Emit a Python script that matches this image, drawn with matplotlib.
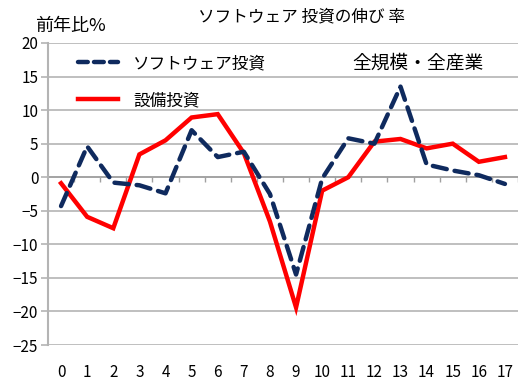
import matplotlib
matplotlib.use('Agg')
import matplotlib.pyplot as plt
from matplotlib.lines import Line2D

plt.rcParams['font.family'] = ['Noto Sans CJK JP', 'DejaVu Sans']

# data
periods = list(range(18))
tick_labels = [str(p) for p in periods]
software = [-4.3, 4.6, -0.8, -1.2, -2.4, 7.0, 3.0, 3.8, -2.5, -14.5,
            -0.2, 5.8, 5.0, 13.5, 1.9, 1.0, 0.3, -1.0]
capex = [-0.9, -5.9, -7.6, 3.4, 5.5, 8.9, 9.4, 3.6, -6.6, -19.4,
         -2.0, 0.0, 5.3, 5.7, 4.3, 5.0, 2.3, 3.0]
yticks = [20, 15, 10, 5, 0, -5, -10, -15, -20, -25]

grid_col = '#b4b4b4'
navy = '#0f2a5e'
red = '#ff0000'

fig = plt.figure(figsize=(5.28, 3.83), dpi=100)
ax = fig.add_axes([48 / 528, 1 - 345 / 383, 470 / 528, 302 / 383])

# gridlines
for v in yticks:
    ax.axhline(v, color=grid_col, lw=1.2, zorder=0)
# zero axis line with category-boundary ticks
ax.axhline(0, color='#a0a0a0', lw=1.2, zorder=1)
ax.vlines([p + 0.5 for p in periods], -0.75, 0, color='#a0a0a0', lw=1.0, zorder=1)

ax.plot(periods, software, color=navy, lw=3.2, linestyle=(0, (3.2, 1.8)),
        solid_capstyle='round', dash_capstyle='round', zorder=3)
ax.plot(periods, capex, color=red, lw=3.2, solid_joinstyle='miter', zorder=2)

ax.set_xlim(-0.5, 17.5)
ax.set_ylim(-25, 20)
ax.set_yticks(yticks)
ax.set_xticks(periods)
ax.set_xticklabels(tick_labels)
ax.tick_params(axis='x', length=0, pad=14, labelsize=11)
ax.tick_params(axis='y', length=5, color=grid_col, width=1.2, pad=2, labelsize=11)

for s in ['top', 'right', 'bottom']:
    ax.spines[s].set_visible(False)
ax.spines['left'].set_color(grid_col)
ax.spines['left'].set_linewidth(1.5)

handles = [Line2D([], [], color=navy, lw=3.2, linestyle=(0, (2.2, 1.4)), dash_capstyle='round'),
           Line2D([], [], color=red, lw=3.2)]
ax.legend(handles, ['ソフトウェア投資', '設備投資'], loc='upper left',
          bbox_to_anchor=(78 / 528, 1 - 55 / 383), bbox_transform=fig.transFigure,
          frameon=False, fontsize=12, handlelength=2.4, handletextpad=0.9,
          labelspacing=1.2, borderpad=0, borderaxespad=0)

fig.text(302 / 528, 1 - 17 / 383, 'ソフトウェア 投資の伸び 率', ha='center', va='center', fontsize=12)
fig.text(35 / 528, 1 - 26 / 383, '前年比%', ha='left', va='center', fontsize=13)
fig.text(418 / 528, 1 - 63 / 383, '全規模・全産業', ha='center', va='center', fontsize=13.5)

fig.savefig('out.png', dpi=100)
